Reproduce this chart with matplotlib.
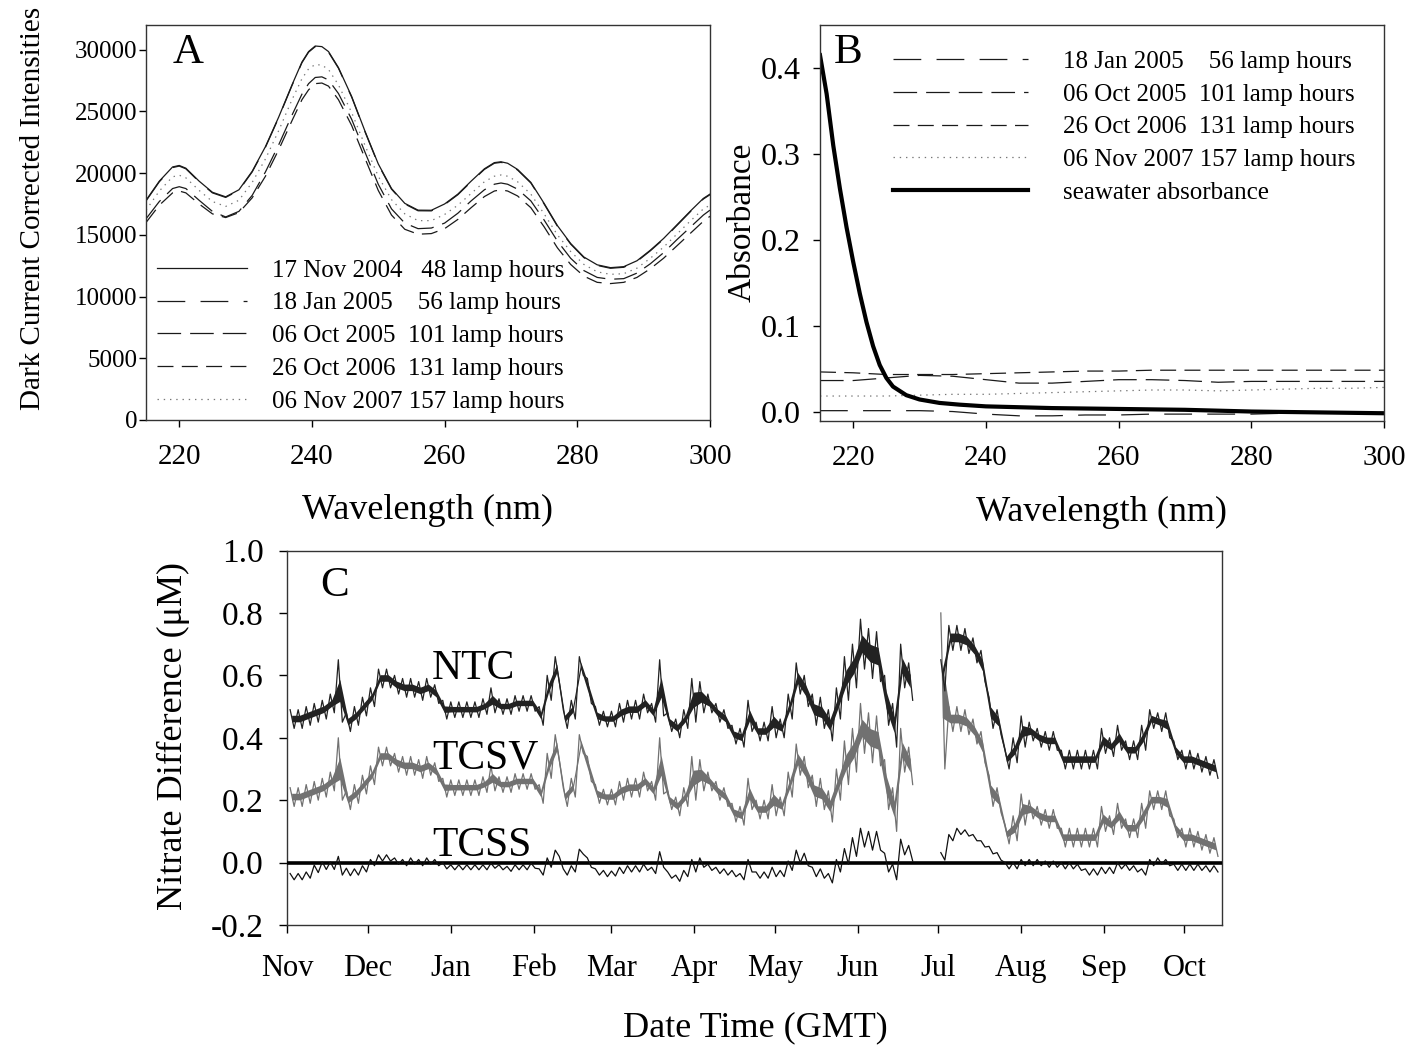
import numpy as np
import matplotlib
matplotlib.use('Agg')
import matplotlib.pyplot as plt
import matplotlib.dates as mdates

plt.rcParams['font.family'] = ['Liberation Serif', 'DejaVu Serif']
plt.rcParams['lines.scale_dashes'] = False
plt.rcParams['axes.linewidth'] = 1.0
plt.rcParams['axes.edgecolor'] = '#333333'

nan = np.nan

# ---- panel A: dark current corrected lamp intensities
wl_a = [215, 217, 219, 220, 221, 223, 225, 227, 229, 231,
        233, 235, 237, 238.5, 239.5, 240.5, 241.5, 242.5, 244, 246,
        248, 250, 252, 254, 256, 258, 260, 262, 264, 266,
        267.5, 268.5, 269.5, 271, 273, 275, 277, 279, 281, 283,
        285, 287, 289, 291, 293, 295, 297, 299, 300]
int_17nov04 = [17800, 19350, 20500, 20620, 20400, 19350, 18450, 18080, 18650, 20150,
               22150, 24550, 27150, 29000, 29850, 30300, 30250, 29850, 28550, 26200,
               23400, 20750, 18750, 17550, 17000, 16990, 17500, 18300, 19350, 20350,
               20850, 20920, 20800, 20300, 19250, 17550, 15750, 14300, 13200, 12570,
               12340, 12420, 12900, 13750, 14700, 15800, 16900, 17950, 18300]
int_18jan05 = [17750, 19300, 20450, 20570, 20350, 19300, 18400, 18030, 18600, 20100,
               22100, 24500, 27100, 28950, 29800, 30250, 30200, 29800, 28500, 26150,
               23350, 20700, 18700, 17500, 16950, 16940, 17450, 18250, 19300, 20300,
               20800, 20870, 20750, 20250, 19200, 17500, 15700, 14250, 13150, 12520,
               12290, 12370, 12850, 13700, 14650, 15750, 16850, 17900, 18250]
int_06oct05 = [16300, 17700, 18750, 18900, 18750, 17800, 16900, 16450, 16900, 18200,
               20100, 22300, 24700, 26400, 27250, 27750, 27800, 27550, 26450, 24350,
               21700, 19100, 17100, 15950, 15500, 15550, 15950, 16750, 17750, 18650,
               19100, 19200, 19100, 18700, 17750, 16200, 14500, 13100, 12100, 11550,
               11400, 11450, 11900, 12650, 13550, 14600, 15600, 16600, 17000]
int_26oct06 = [16000, 17400, 18400, 18550, 18400, 17500, 16700, 16400, 16800, 18000,
               19750, 21900, 24250, 25950, 26750, 27250, 27300, 27050, 25950, 23850,
               21200, 18600, 16600, 15450, 15050, 15100, 15500, 16250, 17200, 18100,
               18550, 18650, 18550, 18150, 17200, 15650, 13950, 12600, 11650, 11150,
               11050, 11150, 11550, 12250, 13100, 14100, 15100, 16100, 16500]
int_06nov07 = [17000, 18550, 19700, 19830, 19620, 18600, 17700, 17300, 17800, 19250,
               21150, 23450, 25950, 27650, 28450, 28800, 28750, 28400, 27150, 24900,
               22250, 19750, 17850, 16700, 16150, 16150, 16650, 17400, 18350, 19300,
               19750, 19850, 19750, 19300, 18300, 16700, 15000, 13650, 12600, 12000,
               11800, 11850, 12300, 13100, 14000, 15050, 16100, 17100, 17400]

# ---- panel B: lamp absorbance vs first spectrum, and seawater absorbance
wl_b = np.arange(215, 300.1, 5)
abs_18jan05 = [0.002, 0.002, 0.002, 0.002, 0.001, -0.002, -0.004, -0.004, -0.003,
               -0.003, -0.002, -0.002, -0.002, -0.002, -0.001, 0.0, 0.0, 0.0]
abs_06oct05 = [0.037, 0.037, 0.040, 0.043, 0.042, 0.038, 0.034, 0.034, 0.036,
               0.038, 0.038, 0.037, 0.035, 0.036, 0.036, 0.036, 0.036, 0.036]
abs_26oct06 = [0.047, 0.046, 0.044, 0.044, 0.044, 0.045, 0.046, 0.047, 0.048,
               0.048, 0.049, 0.049, 0.049, 0.049, 0.049, 0.049, 0.049, 0.049]
abs_06nov07 = [0.019, 0.019, 0.019, 0.020, 0.021, 0.021, 0.022, 0.023, 0.024,
               0.025, 0.026, 0.026, 0.025, 0.026, 0.027, 0.028, 0.028, 0.029]
wl_sw = [215, 216, 217, 218, 219, 220, 221, 222, 223, 224, 225, 226, 228, 230, 233,
         236, 240, 245, 250, 260, 270, 280, 290, 300]
abs_sw = [0.415, 0.37, 0.31, 0.26, 0.215, 0.175, 0.138, 0.105, 0.077, 0.055, 0.040, 0.030,
          0.020, 0.015, 0.011, 0.009, 0.007, 0.006, 0.005, 0.004, 0.003, 0.001, 0.0, -0.001]

# ---- panel C: nitrate differences, centre of the noisy trace and half width of its band
start_c = np.datetime64('2007-11-01')
day_c = np.arange(1, 347, 3)
ntc = [0.46, 0.46, 0.47, 0.48, 0.49, 0.51, 0.55, 0.45, 0.47, 0.50,
       0.53, 0.59, 0.59, 0.57, 0.56, 0.56, 0.55, 0.56, 0.54, 0.49,
       0.49, 0.49, 0.49, 0.49, 0.50, 0.52, 0.50, 0.50, 0.51, 0.51,
       0.51, 0.47, 0.56, 0.62, 0.46, 0.49, 0.63, 0.55, 0.47, 0.46,
       0.46, 0.48, 0.49, 0.49, 0.51, 0.48, 0.56, 0.45, 0.43, 0.46,
       0.52, 0.53, 0.51, 0.48, 0.46, 0.41, 0.40, 0.47, 0.42, 0.42,
       0.45, 0.43, 0.50, 0.59, 0.55, 0.49, 0.48, 0.44, 0.51, 0.59,
       0.63, 0.70, 0.67, 0.66, 0.52, 0.44, 0.63, 0.58, nan, nan,
       nan, 0.60, 0.72, 0.72, 0.71, 0.68, 0.63, 0.48, 0.45, 0.33,
       0.36, 0.42, 0.42, 0.40, 0.39, 0.39, 0.33, 0.33, 0.33, 0.33,
       0.33, 0.39, 0.37, 0.40, 0.36, 0.36, 0.40, 0.46, 0.45, 0.44,
       0.36, 0.33, 0.33, 0.32, 0.31, 0.30]
ntc_band = [0.03, 0.03, 0.03, 0.03, 0.03, 0.03, 0.10, 0.03, 0.03, 0.03,
            0.03, 0.03, 0.03, 0.03, 0.03, 0.03, 0.03, 0.03, 0.03, 0.03,
            0.025, 0.025, 0.025, 0.025, 0.025, 0.04, 0.025, 0.025, 0.025, 0.025,
            0.025, 0.03, 0.04, 0.04, 0.03, 0.03, 0.03, 0.04, 0.03, 0.025,
            0.025, 0.03, 0.03, 0.03, 0.03, 0.03, 0.09, 0.03, 0.03, 0.03,
            0.07, 0.05, 0.03, 0.03, 0.03, 0.03, 0.03, 0.05, 0.03, 0.03,
            0.05, 0.03, 0.04, 0.05, 0.05, 0.05, 0.05, 0.05, 0.05, 0.07,
            0.07, 0.08, 0.08, 0.08, 0.08, 0.07, 0.07, 0.06, nan, nan,
            nan, 0.05, 0.04, 0.04, 0.04, 0.04, 0.05, 0.05, 0.04, 0.03,
            0.04, 0.05, 0.03, 0.03, 0.03, 0.03, 0.03, 0.03, 0.03, 0.03,
            0.03, 0.04, 0.03, 0.04, 0.03, 0.03, 0.04, 0.03, 0.03, 0.04,
            0.03, 0.03, 0.03, 0.03, 0.03, 0.03]
tcsv = [0.21, 0.21, 0.22, 0.23, 0.24, 0.26, 0.30, 0.20, 0.22, 0.25,
        0.28, 0.34, 0.34, 0.32, 0.31, 0.31, 0.30, 0.31, 0.29, 0.24,
        0.24, 0.24, 0.24, 0.24, 0.25, 0.27, 0.25, 0.25, 0.26, 0.26,
        0.26, 0.22, 0.31, 0.37, 0.21, 0.24, 0.38, 0.30, 0.22, 0.21,
        0.21, 0.23, 0.24, 0.24, 0.26, 0.23, 0.31, 0.20, 0.18, 0.21,
        0.27, 0.28, 0.26, 0.23, 0.21, 0.16, 0.15, 0.22, 0.17, 0.17,
        0.20, 0.18, 0.25, 0.33, 0.29, 0.23, 0.22, 0.18, 0.25, 0.32,
        0.36, 0.43, 0.40, 0.39, 0.25, 0.17, 0.36, 0.31, nan, nan,
        nan, 0.55, 0.46, 0.46, 0.45, 0.42, 0.37, 0.23, 0.20, 0.09,
        0.11, 0.17, 0.17, 0.15, 0.14, 0.14, 0.08, 0.08, 0.08, 0.08,
        0.08, 0.14, 0.12, 0.15, 0.11, 0.11, 0.15, 0.20, 0.20, 0.19,
        0.11, 0.08, 0.08, 0.07, 0.06, 0.05]
tcsv_band = [0.03, 0.03, 0.03, 0.03, 0.03, 0.03, 0.10, 0.03, 0.03, 0.03,
             0.03, 0.03, 0.03, 0.03, 0.03, 0.03, 0.03, 0.03, 0.03, 0.03,
             0.025, 0.025, 0.025, 0.025, 0.025, 0.04, 0.025, 0.025, 0.025, 0.025,
             0.025, 0.03, 0.04, 0.04, 0.03, 0.03, 0.03, 0.04, 0.03, 0.025,
             0.025, 0.03, 0.03, 0.03, 0.03, 0.03, 0.09, 0.03, 0.03, 0.03,
             0.07, 0.05, 0.03, 0.03, 0.03, 0.03, 0.03, 0.05, 0.03, 0.03,
             0.05, 0.03, 0.04, 0.05, 0.05, 0.05, 0.05, 0.05, 0.05, 0.07,
             0.07, 0.08, 0.08, 0.08, 0.08, 0.07, 0.07, 0.06, nan, nan,
             nan, 0.25, 0.04, 0.04, 0.04, 0.04, 0.05, 0.05, 0.04, 0.03,
             0.04, 0.05, 0.03, 0.03, 0.03, 0.03, 0.03, 0.03, 0.03, 0.03,
             0.03, 0.04, 0.03, 0.04, 0.03, 0.03, 0.04, 0.03, 0.03, 0.04,
             0.03, 0.03, 0.03, 0.03, 0.03, 0.03]
tcss = [-0.045, -0.045, -0.04, -0.02, -0.01, -0.01, -0.01, -0.03, -0.03, -0.02,
        0.0, 0.015, 0.015, 0.005, 0.0, 0.005, 0.0, 0.005, 0.0, -0.01,
        -0.015, -0.015, -0.015, -0.015, -0.015, -0.01, -0.015, -0.02, -0.015, -0.015,
        -0.01, -0.03, 0.0, 0.03, -0.03, -0.02, 0.035, 0.0, -0.03, -0.035,
        -0.035, -0.025, -0.02, -0.02, -0.015, -0.025, 0.01, -0.04, -0.05, -0.035,
        -0.01, 0.0, -0.015, -0.025, -0.03, -0.035, -0.045, -0.01, -0.04, -0.04,
        -0.03, -0.035, -0.01, 0.02, 0.01, -0.03, -0.035, -0.05, -0.01, 0.02,
        0.05, 0.08, 0.07, 0.07, 0.0, -0.03, 0.05, 0.03, nan, nan,
        nan, 0.02, 0.08, 0.10, 0.095, 0.08, 0.06, 0.04, 0.02, -0.01,
        -0.01, 0.0, 0.0, 0.0, -0.005, -0.005, -0.01, -0.01, -0.015, -0.03,
        -0.03, -0.025, -0.025, -0.01, -0.015, -0.02, -0.03, 0.0, 0.005, 0.0,
        -0.015, -0.015, -0.015, -0.015, -0.02, -0.02]
tcss_band = [0.01, 0.01, 0.01, 0.012, 0.012, 0.012, 0.03, 0.012, 0.01, 0.01,
             0.01, 0.01, 0.01, 0.01, 0.01, 0.01, 0.01, 0.01, 0.01, 0.01,
             0.008, 0.008, 0.008, 0.008, 0.008, 0.008, 0.008, 0.008, 0.008, 0.008,
             0.008, 0.01, 0.015, 0.01, 0.01, 0.01, 0.008, 0.015, 0.01, 0.01,
             0.008, 0.01, 0.01, 0.01, 0.01, 0.01, 0.025, 0.01, 0.01, 0.01,
             0.02, 0.015, 0.01, 0.01, 0.01, 0.01, 0.01, 0.02, 0.01, 0.01,
             0.015, 0.01, 0.015, 0.02, 0.02, 0.015, 0.015, 0.015, 0.02, 0.025,
             0.03, 0.03, 0.03, 0.03, 0.03, 0.025, 0.025, 0.025, nan, nan,
             nan, 0.012, 0.01, 0.01, 0.01, 0.01, 0.01, 0.012, 0.012, 0.01,
             0.01, 0.01, 0.01, 0.01, 0.01, 0.01, 0.01, 0.01, 0.01, 0.01,
             0.01, 0.01, 0.01, 0.01, 0.01, 0.01, 0.01, 0.01, 0.01, 0.01,
             0.01, 0.01, 0.01, 0.01, 0.01, 0.01]

labels_a = ['17 Nov 2004   48 lamp hours', '18 Jan 2005    56 lamp hours',
            '06 Oct 2005  101 lamp hours', '26 Oct 2006  131 lamp hours',
            '06 Nov 2007 157 lamp hours']
labels_b = labels_a[1:] + ['seawater absorbance']

LONG = (0, (20, 11))
MED = (0, (17, 6.5))
SHORT = (0, (11.5, 6))
DOT = (0, (1, 3.5))


def zigzag(center, band):
    # alternate between top and bottom of the noise band
    c = np.asarray(center, float)
    b = np.asarray(band, float)
    return np.column_stack([c + b, c - b]).ravel()


def noisy_trace(ax, center, band, color, z, core=0.35):
    c = np.asarray(center, float)
    b = np.asarray(band, float)
    if core:
        ax.fill_between(t_mid, c - core * b, c + core * b, color=color, lw=0, zorder=z)
    ax.plot(t_c, zigzag(center, band), color=color, lw=0.9, zorder=z)


t_hours = np.column_stack([day_c * 24, day_c * 24 + 36]).ravel()
t_c = start_c + t_hours.astype('timedelta64[h]')
t_mid = start_c + (day_c * 24 + 18).astype('timedelta64[h]')

fig = plt.figure(figsize=(14.07, 10.47), dpi=100)

# ---------------- A
ax = fig.add_axes([0.1038, 0.5989, 0.4008, 0.3772])
ax.plot(wl_a, int_17nov04, color='#1a1a1a', lw=0.9, ls='-', label=labels_a[0])
ax.plot(wl_a, int_18jan05, color='#1a1a1a', lw=0.9, ls=LONG, label=labels_a[1])
ax.plot(wl_a, int_06oct05, color='#1a1a1a', lw=0.9, ls=MED, label=labels_a[2])
ax.plot(wl_a, int_26oct06, color='#1a1a1a', lw=0.9, ls=SHORT, label=labels_a[3])
ax.plot(wl_a, int_06nov07, color='#777777', lw=0.9, ls=DOT, label=labels_a[4])
ax.set_xlim(215, 300)
ax.set_ylim(0, 32000)
ax.set_xticks([220, 240, 260, 280, 300])
ax.set_yticks(np.arange(0, 30001, 5000))
ax.tick_params(axis='x', direction='out', length=5, width=1, labelsize=21, pad=12)
ax.tick_params(axis='y', direction='out', length=5, width=1, labelsize=18, pad=1.5)
ax.text(0.048, 0.93, 'A', transform=ax.transAxes, fontsize=31, va='center', ha='left')
ax.legend(loc='center left', bbox_to_anchor=(0.02, 0.213), frameon=False, fontsize=18,
          handlelength=3.6, handletextpad=1.0, labelspacing=0.41, borderpad=0, borderaxespad=0)
fig.text(33 / 1407, 1 - 208 / 1047, 'Dark Current Corrected Intensities', rotation=90,
         ha='center', va='center', fontsize=21)
fig.text(427 / 1407, 1 - 510 / 1047, 'Wavelength (nm)', ha='center', va='center', fontsize=26)

# ---------------- B
bx = fig.add_axes([0.5828, 0.5979, 0.4009, 0.3782])
bx.plot(wl_b, abs_18jan05, color='#1a1a1a', lw=0.9, ls=LONG, label=labels_b[0])
bx.plot(wl_b, abs_06oct05, color='#1a1a1a', lw=0.9, ls=MED, label=labels_b[1])
bx.plot(wl_b, abs_26oct06, color='#1a1a1a', lw=0.9, ls=SHORT, label=labels_b[2])
bx.plot(wl_b, abs_06nov07, color='#777777', lw=0.9, ls=DOT, label=labels_b[3])
bx.plot(wl_sw, abs_sw, color='black', lw=3.0, ls='-', label=labels_b[4])
bx.set_xlim(215, 300)
bx.set_ylim(-0.01, 0.45)
bx.set_xticks([220, 240, 260, 280, 300])
bx.set_yticks([0.0, 0.1, 0.2, 0.3, 0.4])
bx.set_yticklabels(['0.0', '0.1', '0.2', '0.3', '0.4'])
bx.tick_params(axis='x', direction='out', length=5, width=1, labelsize=21, pad=12)
bx.tick_params(axis='y', direction='out', length=5, width=1, labelsize=23, pad=9)
bx.text(0.025, 0.93, 'B', transform=bx.transAxes, fontsize=31, va='center', ha='left')
bx.legend(loc='center left', bbox_to_anchor=(0.129, 0.742), frameon=False, fontsize=18,
          handlelength=5.4, handletextpad=1.4, labelspacing=0.41, borderpad=0, borderaxespad=0)
fig.text(742 / 1407, 1 - 222 / 1047, 'Absorbance', rotation=90, ha='center', va='center', fontsize=24)
fig.text(1102 / 1407, 1 - 512 / 1047, 'Wavelength (nm)', ha='center', va='center', fontsize=26)

# ---------------- C
cx = fig.add_axes([0.2043, 0.1165, 0.6642, 0.3577])
cx.axhline(0, color='black', lw=2.6, zorder=4)
noisy_trace(cx, ntc, ntc_band, '#222222', 3)
noisy_trace(cx, tcsv, tcsv_band, '#717171', 2)
noisy_trace(cx, tcss, tcss_band, '#111111', 5, core=0)
cx.set_xlim(np.datetime64('2007-11-01'), np.datetime64('2008-10-15'))
cx.set_ylim(-0.2, 1.0)
cx.set_yticks([-0.2, 0.0, 0.2, 0.4, 0.6, 0.8, 1.0])
cx.set_yticklabels(['-0.2', '0.0', '0.2', '0.4', '0.6', '0.8', '1.0'])
cx.xaxis.set_major_locator(mdates.MonthLocator())
cx.xaxis.set_major_formatter(mdates.DateFormatter('%b'))
cx.tick_params(axis='x', direction='out', length=6, width=1, labelsize=22, pad=15)
cx.tick_params(axis='y', direction='out', length=6, width=1, labelsize=24, pad=11)
cx.text(0.035, 0.905, 'C', transform=cx.transAxes, fontsize=31, va='center', ha='left')
lab_day = np.datetime64('2007-12-25')
cx.text(lab_day, 0.62, 'NTC', fontsize=30, va='center', ha='left')
cx.text(lab_day, 0.335, 'TCSV', fontsize=30, va='center', ha='left')
cx.text(lab_day, 0.054, 'TCSS', fontsize=30, va='center', ha='left')
fig.text(173 / 1407, 1 - 736 / 1047, 'Nitrate Difference (\u03bcM)', rotation=90,
         ha='center', va='center', fontsize=26)
fig.text(755 / 1407, 1 - 1028 / 1047, 'Date Time (GMT)', ha='center', va='center', fontsize=26)

fig.savefig('out.png', dpi=100)
